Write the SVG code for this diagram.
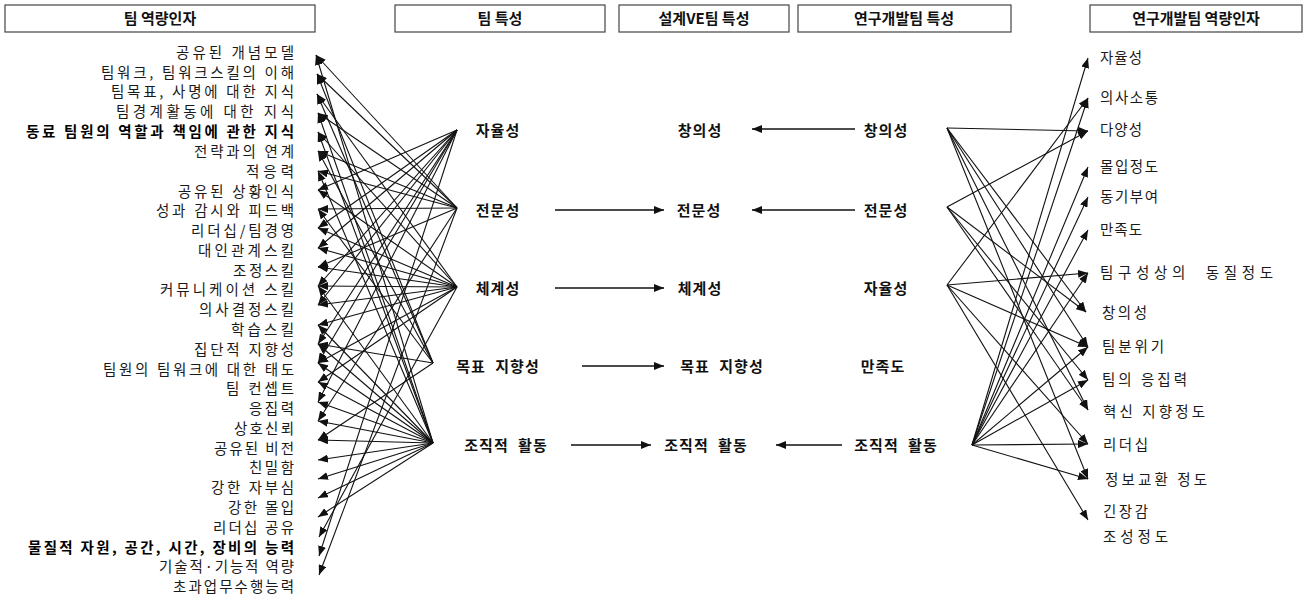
<svg xmlns="http://www.w3.org/2000/svg" width="1308" height="600" viewBox="0 0 1308 600">
<style>
.hdr{fill:#fff;stroke:#444;stroke-width:1.2}
.ht{font-family:"Noto Sans CJK KR","Noto Sans",sans-serif;font-size:15px;font-weight:bold;fill:#111;text-anchor:middle}
.li{font-family:"Noto Sans CJK KR","Noto Sans",sans-serif;font-size:14.5px;fill:#1a1a1a;text-anchor:end}
.lb{font-weight:bold;fill:#000}
.ri{font-family:"Noto Sans CJK KR","Noto Sans",sans-serif;font-size:14.5px;fill:#1a1a1a}
.mn{font-family:"Noto Sans CJK KR","Noto Sans",sans-serif;font-size:15px;font-weight:bold;fill:#111;text-anchor:middle;word-spacing:5px;letter-spacing:1px}
.c{stroke:#111;stroke-width:1.1;fill:none;marker-end:url(#ah)}
.m{stroke:#111;stroke-width:1.5;fill:none;marker-end:url(#am)}
</style>
<defs>
<marker id="ah" markerUnits="userSpaceOnUse" markerWidth="10" markerHeight="8" refX="10" refY="4" orient="auto"><path d="M0,0 L10,4 L0,8 z" fill="#111"/></marker>
<marker id="am" markerUnits="userSpaceOnUse" markerWidth="10" markerHeight="8" refX="10" refY="4" orient="auto"><path d="M0,0 L10,4 L0,8 z" fill="#111"/></marker>
</defs>
<rect width="1308" height="600" fill="#fff"/>

<g id="headers">
<g id="h-team-factors"><rect class="hdr" x="5" y="5" width="310" height="27"/><text class="ht" x="160" y="24">팀 역량인자</text></g>
<g id="h-team-char"><rect class="hdr" x="395" y="5" width="210" height="27"/><text class="ht" x="500" y="24">팀 특성</text></g>
<g id="h-ve-char"><rect class="hdr" x="619" y="5" width="170" height="27"/><text class="ht" x="704" y="24">설계VE팀 특성</text></g>
<g id="h-rd-char"><rect class="hdr" x="798" y="5" width="213" height="27"/><text class="ht" x="904" y="24">연구개발팀 특성</text></g>
<g id="h-rd-factors"><rect class="hdr" x="1090" y="5" width="212" height="27"/><text class="ht" x="1196" y="24">연구개발팀 역량인자</text></g>
</g>

<g id="left-items">
<text class="li" x="294" y="58" textLength="118">공유된 개념모델</text>
<text class="li" x="294" y="78" textLength="193">팀워크, 팀워크스킬의 이해</text>
<text class="li" x="294" y="97" textLength="183">팀목표, 사명에 대한 지식</text>
<text class="li" x="294" y="117" textLength="178">팀경계활동에 대한 지식</text>
<text class="li lb" x="294" y="137" textLength="268">동료 팀원의 역할과 책임에 관한 지식</text>
<text class="li" x="294" y="157" textLength="100">전략과의 연계</text>
<text class="li" x="294" y="177" textLength="48">적응력</text>
<text class="li" x="294" y="197" textLength="116">공유된 상황인식</text>
<text class="li" x="294" y="216" textLength="138">성과 감시와 피드백</text>
<text class="li" x="294" y="236" textLength="103">리더십/팀경영</text>
<text class="li" x="294" y="256" textLength="96">대인관계스킬</text>
<text class="li" x="294" y="276" textLength="61">조정스킬</text>
<text class="li" x="294" y="295" textLength="134">커뮤니케이션 스킬</text>
<text class="li" x="294" y="315" textLength="95">의사결정스킬</text>
<text class="li" x="294" y="335" textLength="63">학습스킬</text>
<text class="li" x="294" y="355" textLength="100">집단적 지향성</text>
<text class="li" x="294" y="375" textLength="191">팀원의 팀워크에 대한 태도</text>
<text class="li" x="294" y="394" textLength="68">팀 컨셉트</text>
<text class="li" x="294" y="414" textLength="45">응집력</text>
<text class="li" x="294" y="434" textLength="60">상호신뢰</text>
<text class="li" x="294" y="454" textLength="80">공유된 비전</text>
<text class="li" x="294" y="473" textLength="45">친밀함</text>
<text class="li" x="294" y="493" textLength="83">강한 자부심</text>
<text class="li" x="294" y="513" textLength="66">강한 몰입</text>
<text class="li" x="294" y="533" textLength="81">리더십 공유</text>
<text class="li lb" x="294" y="553" textLength="266">물질적 자원, 공간, 시간, 장비의 능력</text>
<text class="li" x="294" y="572" textLength="135">기술적·기능적 역량</text>
<text class="li" x="294" y="592" textLength="121">초과업무수행능력</text>
</g>

<g id="team-char">
<g id="t-autonomy"><text class="mn" x="498" y="136">자율성</text></g>
<g id="t-expertise"><text class="mn" x="498" y="216">전문성</text></g>
<g id="t-system"><text class="mn" x="498" y="294">체계성</text></g>
<g id="t-goal"><text class="mn" x="498" y="372">목표 지향성</text></g>
<g id="t-org"><text class="mn" x="506" y="451">조직적 활동</text></g>
</g>
<g id="ve-char">
<g id="v-creativity"><text class="mn" x="700" y="136">창의성</text></g>
<g id="v-expertise"><text class="mn" x="699" y="216">전문성</text></g>
<g id="v-system"><text class="mn" x="700" y="294">체계성</text></g>
<g id="v-goal"><text class="mn" x="722" y="372">목표 지향성</text></g>
<g id="v-org"><text class="mn" x="706" y="451">조직적 활동</text></g>
</g>
<g id="rd-char">
<g id="r-creativity"><text class="mn" x="886" y="136">창의성</text></g>
<g id="r-expertise"><text class="mn" x="886" y="216">전문성</text></g>
<g id="r-autonomy"><text class="mn" x="886" y="294">자율성</text></g>
<g id="r-satisfaction"><text class="mn" x="883" y="372">만족도</text></g>
<g id="r-org"><text class="mn" x="896" y="451">조직적 활동</text></g>
</g>

<g id="right-items">
<text class="ri" x="1100" y="63" textLength="42">자율성</text>
<text class="ri" x="1100" y="103" textLength="58">의사소통</text>
<text class="ri" x="1100" y="135" textLength="42">다양성</text>
<text class="ri" x="1100" y="172" textLength="58">몰입정도</text>
<text class="ri" x="1100" y="202" textLength="58">동기부여</text>
<text class="ri" x="1100" y="235" textLength="42">만족도</text>
<text class="ri" x="1100" y="278" textLength="173" xml:space="preserve">팀구성상의  동질정도</text>
<text class="ri" x="1102" y="318" textLength="45">창의성</text>
<text class="ri" x="1102" y="352" textLength="62">팀분위기</text>
<text class="ri" x="1102" y="385" textLength="85">팀의 응집력</text>
<text class="ri" x="1103" y="417" textLength="102">혁신 지향정도</text>
<text class="ri" x="1103" y="450" textLength="45">리더십</text>
<text class="ri" x="1105" y="485" textLength="102">정보교환 정도</text>
<text class="ri" x="1103" y="517" textLength="45">긴장감</text>
<text class="ri" x="1103" y="542" textLength="65">조성정도</text>
</g>

<g id="connectors">
<line class="m" x1="855" y1="129" x2="752" y2="129"/>
<line class="m" x1="555" y1="210" x2="664" y2="210"/>
<line class="m" x1="855" y1="210" x2="752" y2="210"/>
<line class="m" x1="555" y1="288" x2="664" y2="288"/>
<line class="m" x1="582" y1="366" x2="664" y2="366"/>
<line class="m" x1="571" y1="445" x2="651" y2="445"/>
<line class="m" x1="842" y1="445" x2="776" y2="445"/>
<line class="c" x1="457" y1="130" x2="318" y2="190"/>
<line class="c" x1="457" y1="130" x2="318" y2="228"/>
<line class="c" x1="457" y1="130" x2="318" y2="248"/>
<line class="c" x1="457" y1="130" x2="318" y2="286"/>
<line class="c" x1="457" y1="130" x2="318" y2="305"/>
<line class="c" x1="457" y1="130" x2="318" y2="344"/>
<line class="c" x1="457" y1="130" x2="318" y2="363"/>
<line class="c" x1="457" y1="130" x2="318" y2="402"/>
<line class="c" x1="457" y1="130" x2="319" y2="556"/>
<line class="c" x1="457" y1="208" x2="316" y2="55"/>
<line class="c" x1="457" y1="208" x2="317" y2="74"/>
<line class="c" x1="457" y1="208" x2="318" y2="113"/>
<line class="c" x1="457" y1="208" x2="318" y2="151"/>
<line class="c" x1="457" y1="208" x2="318" y2="171"/>
<line class="c" x1="457" y1="208" x2="318" y2="209"/>
<line class="c" x1="457" y1="208" x2="318" y2="267"/>
<line class="c" x1="457" y1="208" x2="318" y2="421"/>
<line class="c" x1="457" y1="208" x2="319" y2="575"/>
<line class="c" x1="457" y1="287" x2="317" y2="94"/>
<line class="c" x1="457" y1="287" x2="318" y2="132"/>
<line class="c" x1="457" y1="287" x2="318" y2="190"/>
<line class="c" x1="457" y1="287" x2="318" y2="228"/>
<line class="c" x1="457" y1="287" x2="318" y2="248"/>
<line class="c" x1="457" y1="287" x2="318" y2="267"/>
<line class="c" x1="457" y1="287" x2="318" y2="286"/>
<line class="c" x1="457" y1="287" x2="318" y2="305"/>
<line class="c" x1="457" y1="287" x2="318" y2="325"/>
<line class="c" x1="457" y1="287" x2="318" y2="363"/>
<line class="c" x1="457" y1="287" x2="318" y2="382"/>
<line class="c" x1="457" y1="287" x2="319" y2="537"/>
<line class="c" x1="433" y1="363" x2="317" y2="74"/>
<line class="c" x1="433" y1="363" x2="317" y2="94"/>
<line class="c" x1="433" y1="363" x2="318" y2="151"/>
<line class="c" x1="433" y1="363" x2="318" y2="209"/>
<line class="c" x1="433" y1="363" x2="318" y2="344"/>
<line class="c" x1="433" y1="363" x2="318" y2="440"/>
<line class="c" x1="433" y1="443" x2="316" y2="55"/>
<line class="c" x1="433" y1="443" x2="318" y2="113"/>
<line class="c" x1="433" y1="443" x2="318" y2="132"/>
<line class="c" x1="433" y1="443" x2="318" y2="171"/>
<line class="c" x1="433" y1="443" x2="318" y2="286"/>
<line class="c" x1="433" y1="443" x2="318" y2="325"/>
<line class="c" x1="433" y1="443" x2="318" y2="344"/>
<line class="c" x1="433" y1="443" x2="318" y2="363"/>
<line class="c" x1="433" y1="443" x2="318" y2="382"/>
<line class="c" x1="433" y1="443" x2="318" y2="402"/>
<line class="c" x1="433" y1="443" x2="318" y2="421"/>
<line class="c" x1="433" y1="443" x2="318" y2="440"/>
<line class="c" x1="433" y1="443" x2="318" y2="460"/>
<line class="c" x1="433" y1="443" x2="318" y2="479"/>
<line class="c" x1="433" y1="443" x2="318" y2="498"/>
<line class="c" x1="433" y1="443" x2="318" y2="517"/>
<line class="c" x1="947" y1="128" x2="1088" y2="131"/>
<line class="c" x1="947" y1="128" x2="1086" y2="312"/>
<line class="c" x1="947" y1="128" x2="1088" y2="347"/>
<line class="c" x1="947" y1="128" x2="1088" y2="410"/>
<line class="c" x1="947" y1="128" x2="1088" y2="479"/>
<line class="c" x1="947" y1="207" x2="1088" y2="131"/>
<line class="c" x1="947" y1="207" x2="1086" y2="312"/>
<line class="c" x1="947" y1="207" x2="1088" y2="380"/>
<line class="c" x1="947" y1="207" x2="1088" y2="410"/>
<line class="c" x1="947" y1="285" x2="1088" y2="98"/>
<line class="c" x1="947" y1="285" x2="1088" y2="273"/>
<line class="c" x1="947" y1="285" x2="1088" y2="347"/>
<line class="c" x1="947" y1="285" x2="1088" y2="444"/>
<line class="c" x1="947" y1="285" x2="1088" y2="520"/>
<line class="c" x1="972" y1="445" x2="1088" y2="58"/>
<line class="c" x1="972" y1="445" x2="1088" y2="98"/>
<line class="c" x1="972" y1="445" x2="1088" y2="167"/>
<line class="c" x1="972" y1="445" x2="1088" y2="197"/>
<line class="c" x1="972" y1="445" x2="1088" y2="230"/>
<line class="c" x1="972" y1="445" x2="1088" y2="273"/>
<line class="c" x1="972" y1="445" x2="1088" y2="347"/>
<line class="c" x1="972" y1="445" x2="1088" y2="380"/>
<line class="c" x1="972" y1="445" x2="1088" y2="444"/>
<line class="c" x1="972" y1="445" x2="1088" y2="479"/>
</g>
</svg>
